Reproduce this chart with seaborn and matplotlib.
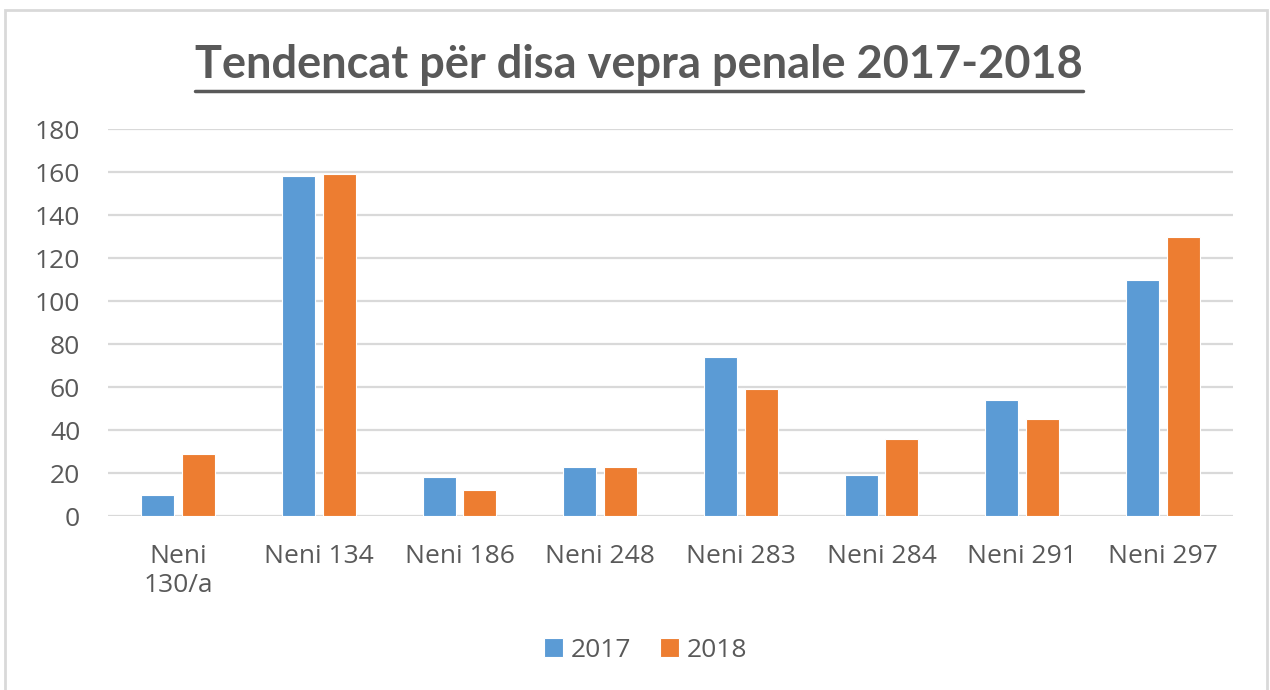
import pandas as pd
import matplotlib.pyplot as plt
import seaborn as sns
from matplotlib.patches import Rectangle
from matplotlib.lines import Line2D

categories = ['Neni\n130/a', 'Neni 134', 'Neni 186', 'Neni 248',
              'Neni 283', 'Neni 284', 'Neni 291', 'Neni 297']
values_2017 = [10, 158, 18, 23, 74, 19, 54, 110]
values_2018 = [29, 159, 12, 23, 59, 36, 45, 130]
years = ['2017', '2018']
colors = ['#5B9BD5', '#ED7D31']

df = pd.DataFrame({
    'Neni': categories * 2,
    'Viti': [years[0]] * len(categories) + [years[1]] * len(categories),
    'Vlera': values_2017 + values_2018,
})

sns.set_style('white')
plt.rcParams['font.family'] = ['Open Sans', 'DejaVu Sans']

fig = plt.figure(figsize=(12.7, 6.9), dpi=100)
ax = fig.add_axes([0.085, 0.252, 0.886, 0.561])

sns.barplot(data=df, x='Neni', y='Vlera', hue='Viti', palette=colors,
            saturation=1, width=0.58, gap=0.19, edgecolor='white',
            linewidth=0.8, ax=ax, zorder=3)

ax.set_ylim(0, 180)
ax.set_xlim(-0.5, 7.5)
ax.set_yticks(range(0, 181, 20))
ax.yaxis.grid(True, color='#D9D9D9', linewidth=1.6, zorder=0)
ax.set_axisbelow(True)
for s in ax.spines.values():
    s.set_visible(False)
ax.set_xlabel('')
ax.set_ylabel('')
ax.tick_params(axis='both', length=0, labelsize=19, colors='#595959')
ax.tick_params(axis='y', pad=20)
ax.tick_params(axis='x', pad=20)

ax.legend(loc='center', bbox_to_anchor=(0.478, -0.346), ncol=2,
          frameon=False, fontsize=19, labelcolor='#595959',
          handlelength=0.7, handleheight=0.7, handletextpad=0.3,
          columnspacing=1.1)

# chart border
fig.patches.append(Rectangle((5 / 1270, -0.01), 1262 / 1270, 1 - 10 / 690 + 0.01,
                             transform=fig.transFigure, fill=False,
                             edgecolor='#D9D9D9', linewidth=2))

title = fig.text(0.503, 1 - 78 / 690, 'Tendencat për disa vepra penale 2017-2018',
                 ha='center', va='baseline', fontsize=32.5, fontweight='bold',
                 color='#595959', family=['Lato', 'DejaVu Sans'])

# underline the title
fig.canvas.draw()
bb = title.get_window_extent().transformed(fig.transFigure.inverted())
y_line = 1 - 91 / 690
fig.lines.append(Line2D([bb.x0, bb.x1], [y_line, y_line], transform=fig.transFigure,
                        color='#595959', linewidth=2.5))

fig.savefig('out.png', dpi=100)
